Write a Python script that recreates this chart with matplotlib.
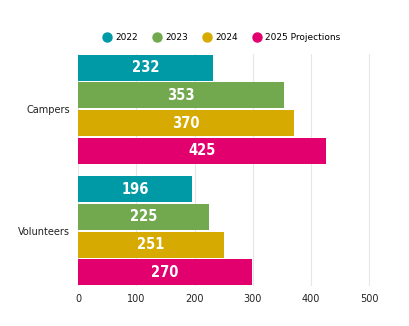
import numpy as np
import matplotlib
matplotlib.use("Agg")
import matplotlib.pyplot as plt
from matplotlib.lines import Line2D

categories = ["Campers", "Volunteers"]
series = ["2022", "2023", "2024", "2025 Projections"]
# bar lengths as drawn, and the numbers printed on them
bar_values = {
    "2022": [232, 196],
    "2023": [353, 225],
    "2024": [370, 251],
    "2025 Projections": [425, 298],
}
bar_labels = {
    "2022": ["232", "196"],
    "2023": ["353", "225"],
    "2024": ["370", "251"],
    "2025 Projections": ["425", "270"],
}
x_ticks = [0, 100, 200, 300, 400, 500]
colors = ["#0099A6", "#72A94F", "#D6AA00", "#E2006F"]

fig = plt.figure(figsize=(4.09, 3.26), dpi=100)
ax = fig.add_axes([78 / 409, 1 - 286 / 326, 310 / 409, 232 / 326])

group_pos = np.array([0.0, 4.4])
offsets = [-1.5, -0.5, 0.5, 1.5]

for s, off, c in zip(series, offsets, colors):
    y = group_pos + off
    bars = ax.barh(y, bar_values[s], height=0.94, color=c, zorder=3)
    for b, lab in zip(bars, bar_labels[s]):
        ax.text(b.get_width() / 2, b.get_y() + b.get_height() / 2, lab,
                ha="center", va="center", color="white", fontsize=10.5,
                fontweight="bold", fontstretch="condensed", zorder=4)

ax.set_xlim(0, 532)
ax.set_ylim(group_pos[-1] + 2, group_pos[0] - 2)
ax.set_xticks(x_ticks)
ax.set_yticks(group_pos)
ax.set_yticklabels(categories)
ax.tick_params(axis="both", length=0, labelsize=7, colors="#222222")
ax.tick_params(axis="x", pad=6)
ax.tick_params(axis="y", pad=6)
ax.grid(axis="x", color="#e6e6e6", linewidth=0.8, zorder=0)
for sp in ax.spines.values():
    sp.set_visible(False)

handles = [Line2D([], [], marker="o", linestyle="", markersize=6.5,
                  markerfacecolor=c, markeredgecolor=c) for c in colors]
fig.legend(handles, series, loc="center", bbox_to_anchor=(0.54, 1 - 38 / 326),
           ncol=4, frameon=False, fontsize=6.5, handletextpad=0.3,
           columnspacing=1.5, handlelength=1.2)

fig.savefig("out.png", dpi=100)
